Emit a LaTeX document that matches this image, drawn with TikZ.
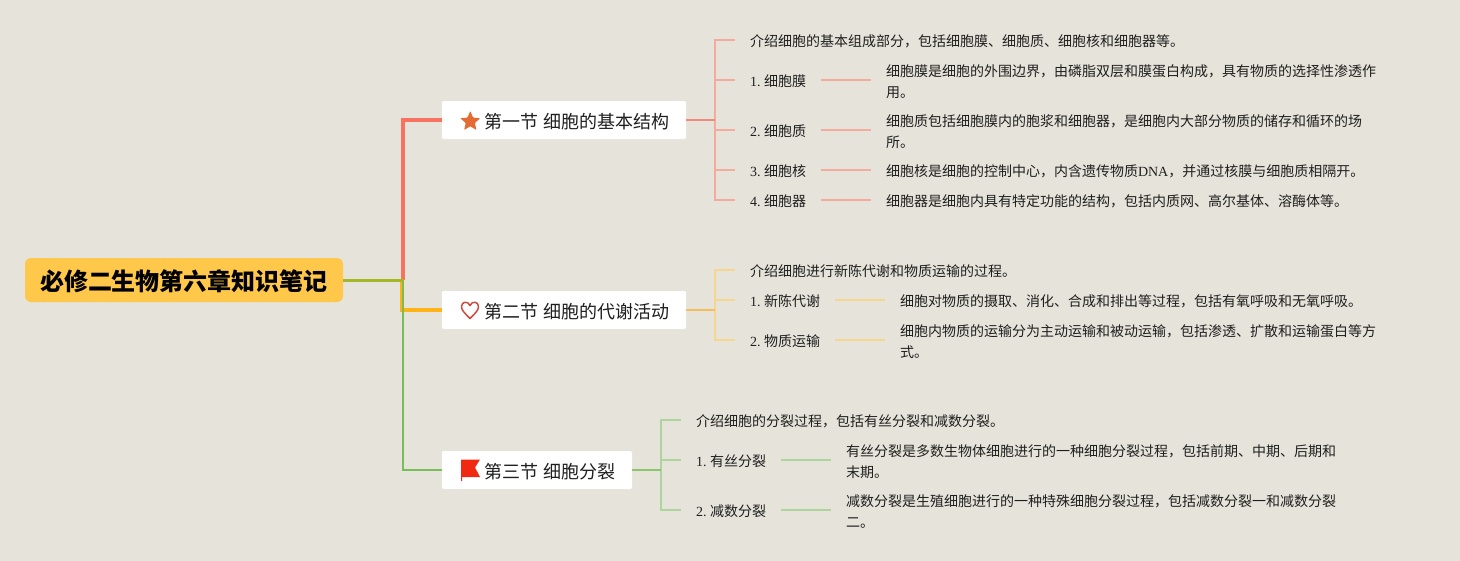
\documentclass[tikz,border=0pt]{standalone}
\usepackage{fontspec}
\setmainfont{Liberation Serif}
\newfontfamily\cjk{Noto Sans CJK SC}
\usetikzlibrary{positioning}
\usetikzlibrary{shapes.geometric}
\definecolor{paper}{HTML}{E6E3DA}
\definecolor{rootfill}{HTML}{FFC84A}
\definecolor{olive}{HTML}{A5B626}
\definecolor{staricon}{HTML}{E56B35}
\definecolor{hearticon}{HTML}{CC4A3E}
\definecolor{flagicon}{HTML}{F02A10}
\definecolor{redmain}{HTML}{F8735F}
\definecolor{redstem}{HTML}{F0897A}
\definecolor{redleaf}{HTML}{F5AA9E}
\definecolor{yelmain}{HTML}{FFB316}
\definecolor{yelstem}{HTML}{F5BE5A}
\definecolor{yelleaf}{HTML}{F6D68E}
\definecolor{grnmain}{HTML}{79BD5A}
\definecolor{grnstem}{HTML}{8CC56E}
\definecolor{grnleaf}{HTML}{ADD49C}
\newcommand{\lat}[1]{{\rmfamily #1}\hspace{3.6pt}}
\tikzset{
	rootnode/.style={
		fill=rootfill,
		rounded corners=6pt,
		minimum width=318pt,
		minimum height=44pt,
		inner sep=0pt,
		text=black,
		text height=23.4pt,
		text depth=2pt,
		font=\fontsize{24}{28}\selectfont\cjk\bfseries,
	},
	secnode/.style={
		fill=white,
		rounded corners=1.5pt,
		minimum height=38pt,
		inner xsep=17pt,
		inner ysep=0pt,
		text=black!88,
		text height=18pt,
		text depth=1pt,
		font=\fontsize{18}{22}\selectfont\cjk,
	},
	labnode/.style={
		anchor=west,
		inner sep=0pt,
		outer xsep=15pt,
		align=left,
		text=black!88,
		text height=13.5pt,
		text depth=0.5pt,
		font=\fontsize{14}{21}\selectfont\cjk,
	},
	twolines/.style={text height=35.5pt},
	main/.style={line width=#1, line join=miter},
	stem/.style={line width=1.6pt},
	leaf/.style={line width=1.4pt},
}

\begin{document}
\begin{tikzpicture}[x=1pt,y=-1pt]
	\useasboundingbox (0,0) rectangle (1460,560);
	\fill[paper] (-5,-5) rectangle (1465,565);

	\node[rootnode] (root) at (184,280) {必修二生物第六章知识笔记};
	\coordinate (trunk) at (403,280);

	\node[secnode] (sec1) at (564,120) {\hspace*{26pt}第一节 细胞的基本结构};
	\node[secnode] (sec2) at (564,310) {\hspace*{26pt}第二节 细胞的代谢活动};
	\node[secnode] (sec3) at (537,470) {\hspace*{26pt}第三节 细胞分裂};

	% icons
	\node[star, star points=5, star point ratio=2.2, fill=staricon, rounded corners=0.8pt, inner sep=0pt, minimum size=21pt] (stargraph) at ([xshift=28.5pt,yshift=-1.5pt]sec1.west) {};
	\draw[line width=1.5pt, hearticon, line join=round] (470,318.5)
		.. controls (464,312.5) and (461.5,310) .. (461.5,306.5)
		.. controls (461.5,301.5) and (468,300.5) .. (470,305.5)
		.. controls (472,300.5) and (478.5,301.5) .. (478.5,306.5)
		.. controls (478.5,310) and (476,312.5) .. (470,318.5) -- cycle;
	\fill[flagicon] (461,459.5) -- (480,459.5) -- (475,467.5) -- (480,477) -- (462.2,477) -- (462.2,481) -- (461,481) -- cycle;

	% first level
	\draw[main=4pt, redmain] (trunk) |- (sec1.west);
	\draw[main=4pt, yelmain] ([xshift=-1pt]trunk) |- (sec2.west);
	\draw[main=2pt, grnmain] (trunk) |- (sec3.west);
	\draw[main=3pt, olive] (root.east) -- ([xshift=1pt]trunk);

	% first section
	\node[labnode] (intro1) at (735,40) {介绍细胞的基本组成部分，包括细胞膜、细胞质、细胞核和细胞器等。};
	\node[labnode] (lab11) at (735,80) {\lat{1.}细胞膜};
	\node[labnode] (lab12) at (735,130) {\lat{2.}细胞质};
	\node[labnode] (lab13) at (735,170) {\lat{3.}细胞核};
	\node[labnode] (lab14) at (735,200) {\lat{4.}细胞器};
	\node[labnode,twolines] (txt11) at (871,80) {细胞膜是细胞的外围边界，由磷脂双层和膜蛋白构成，具有物质的选择性渗透作\\用。};
	\node[labnode,twolines] (txt12) at (871,130) {细胞质包括细胞膜内的胞浆和细胞器，是细胞内大部分物质的储存和循环的场\\所。};
	\node[labnode] (txt13) at (871,170) {细胞核是细胞的控制中心，内含遗传物质{\rmfamily DNA}，并通过核膜与细胞质相隔开。};
	\node[labnode] (txt14) at (871,200) {细胞器是细胞内具有特定功能的结构，包括内质网、高尔基体、溶酶体等。};
	\coordinate (hub1) at (715,120);

	\draw[stem, redleaf] (hub1) |- (intro1.west);
	\draw[stem, redleaf] (hub1) |- (lab11.west);
	\draw[stem, redleaf] (hub1) |- (lab12.west);
	\draw[stem, redleaf] (hub1) |- (lab13.west);
	\draw[stem, redleaf] (hub1) |- (lab14.west);
	\draw[stem, redstem] (sec1.east) -- (hub1);
	\draw[leaf, redleaf] (lab11.east) -- (txt11.west);
	\draw[leaf, redleaf] (lab12.east) -- (txt12.west);
	\draw[leaf, redleaf] (lab13.east) -- (txt13.west);
	\draw[leaf, redleaf] (lab14.east) -- (txt14.west);

	% second section
	\node[labnode] (intro2) at (735,270) {介绍细胞进行新陈代谢和物质运输的过程。};
	\node[labnode] (lab21) at (735,300) {\lat{1.}新陈代谢};
	\node[labnode] (lab22) at (735,340) {\lat{2.}物质运输};
	\node[labnode] (txt21) at (885,300) {细胞对物质的摄取、消化、合成和排出等过程，包括有氧呼吸和无氧呼吸。};
	\node[labnode,twolines] (txt22) at (885,340) {细胞内物质的运输分为主动运输和被动运输，包括渗透、扩散和运输蛋白等方\\式。};
	\coordinate (hub2) at (715,310);

	\draw[stem, yelleaf] (hub2) |- (intro2.west);
	\draw[stem, yelleaf] (hub2) |- (lab21.west);
	\draw[stem, yelleaf] (hub2) |- (lab22.west);
	\draw[stem, yelstem] (sec2.east) -- (hub2);
	\draw[leaf, yelleaf] (lab21.east) -- (txt21.west);
	\draw[leaf, yelleaf] (lab22.east) -- (txt22.west);

	% third section
	\node[labnode] (intro3) at (681,420) {介绍细胞的分裂过程，包括有丝分裂和减数分裂。};
	\node[labnode] (lab31) at (681,460) {\lat{1.}有丝分裂};
	\node[labnode] (lab32) at (681,510) {\lat{2.}减数分裂};
	\node[labnode,twolines] (txt31) at (831,460) {有丝分裂是多数生物体细胞进行的一种细胞分裂过程，包括前期、中期、后期和\\末期。};
	\node[labnode,twolines] (txt32) at (831,510) {减数分裂是生殖细胞进行的一种特殊细胞分裂过程，包括减数分裂一和减数分裂\\二。};
	\coordinate (hub3) at (661,470);

	\draw[stem, grnleaf] (hub3) |- (intro3.west);
	\draw[stem, grnleaf] (hub3) |- (lab31.west);
	\draw[stem, grnleaf] (hub3) |- (lab32.west);
	\draw[stem, grnstem] (sec3.east) -- (hub3);
	\draw[leaf, grnleaf] (lab31.east) -- (txt31.west);
	\draw[leaf, grnleaf] (lab32.east) -- (txt32.west);
\end{tikzpicture}
\end{document}
